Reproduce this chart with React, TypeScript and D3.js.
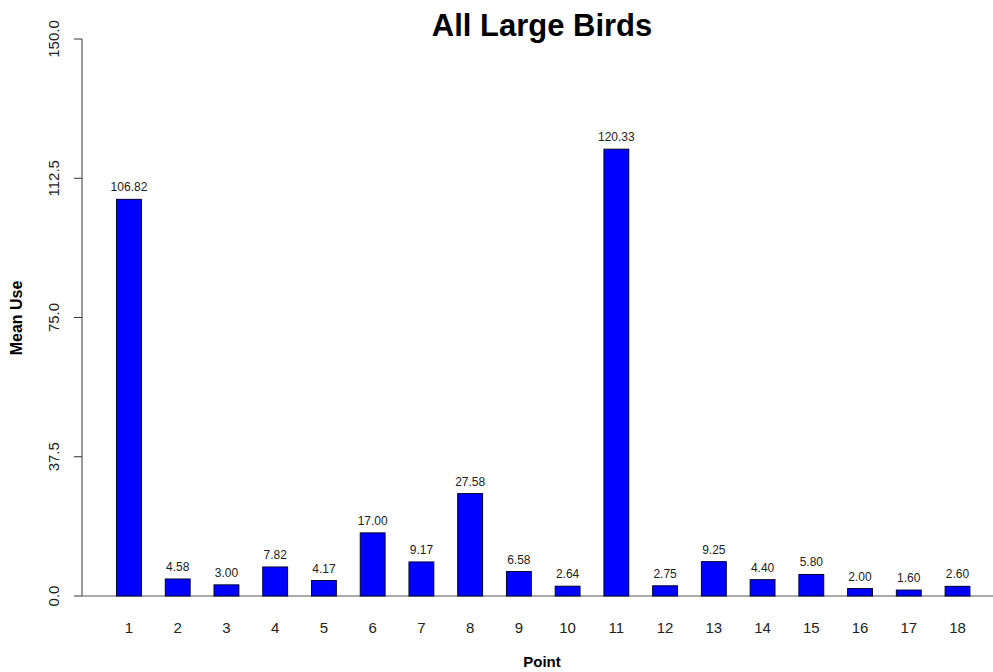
import React from "react";
import * as d3 from "d3";

const categories = ["1","2","3","4","5","6","7","8","9","10","11","12","13","14","15","16","17","18"];
const values = [106.82, 4.58, 3.0, 7.82, 4.17, 17.0, 9.17, 27.58, 6.58, 2.64, 120.33, 2.75, 9.25, 4.4, 5.8, 2.0, 1.6, 2.6];
const yTicks = [0, 37.5, 75, 112.5, 150];
const title = "All Large Birds";
const xLabel = "Point";
const yLabel = "Mean Use";

export default function App() {
  const W = 993, H = 672;
  const y = d3.scaleLinear().domain([0, 150]).range([596, 39]);
  const x = d3.scaleBand<string>().domain(categories).range([104.6, 981.9]).paddingInner(0.49).paddingOuter(0.245);
  const font = "Liberation Sans, Arial, Helvetica, sans-serif";
  return (
    <svg width={W} height={H} style={{ position: "absolute", left: 0, top: 0, background: "#fff" }} fontFamily={font}>
      <rect x={0} y={0} width={W} height={H} fill="#fff" />
      <text x={542} y={36} textAnchor="middle" fontSize={31} fontWeight="bold" fill="#000">{title}</text>
      {/* y axis */}
      <line x1={82} x2={82} y1={y(150)} y2={y(0)} stroke="#333" strokeWidth={1} />
      {yTicks.map((t) => (
        <g key={t}>
          <line x1={74} x2={82} y1={y(t)} y2={y(t)} stroke="#333" strokeWidth={1} />
          <text transform={`translate(59,${y(t)}) rotate(-90)`} textAnchor="middle" fontSize={15} fill="#222">{t.toFixed(1)}</text>
        </g>
      ))}
      {/* baseline */}
      <line x1={82} x2={W} y1={y(0)} y2={y(0)} stroke="#555" strokeWidth={1} />
      {categories.map((c, i) => {
        const v = values[i];
        const bx = x(c)!;
        const bw = x.bandwidth();
        return (
          <g key={c}>
            <rect x={bx} y={y(v)} width={bw} height={y(0) - y(v)} fill="#0000FF" stroke="#000033" strokeWidth={1} />
            <text x={bx + bw / 2} y={y(v) - 8} textAnchor="middle" fontSize={12} fill="#222">{v.toFixed(2)}</text>
            <text x={bx + bw / 2} y={633} textAnchor="middle" fontSize={15} fill="#222">{c}</text>
          </g>
        );
      })}
      <text x={542} y={667} textAnchor="middle" fontSize={15} fontWeight="bold" fill="#000">{xLabel}</text>
      <text transform={`translate(22,318) rotate(-90)`} textAnchor="middle" fontSize={16} fontWeight="bold" fill="#000">{yLabel}</text>
    </svg>
  );
}
